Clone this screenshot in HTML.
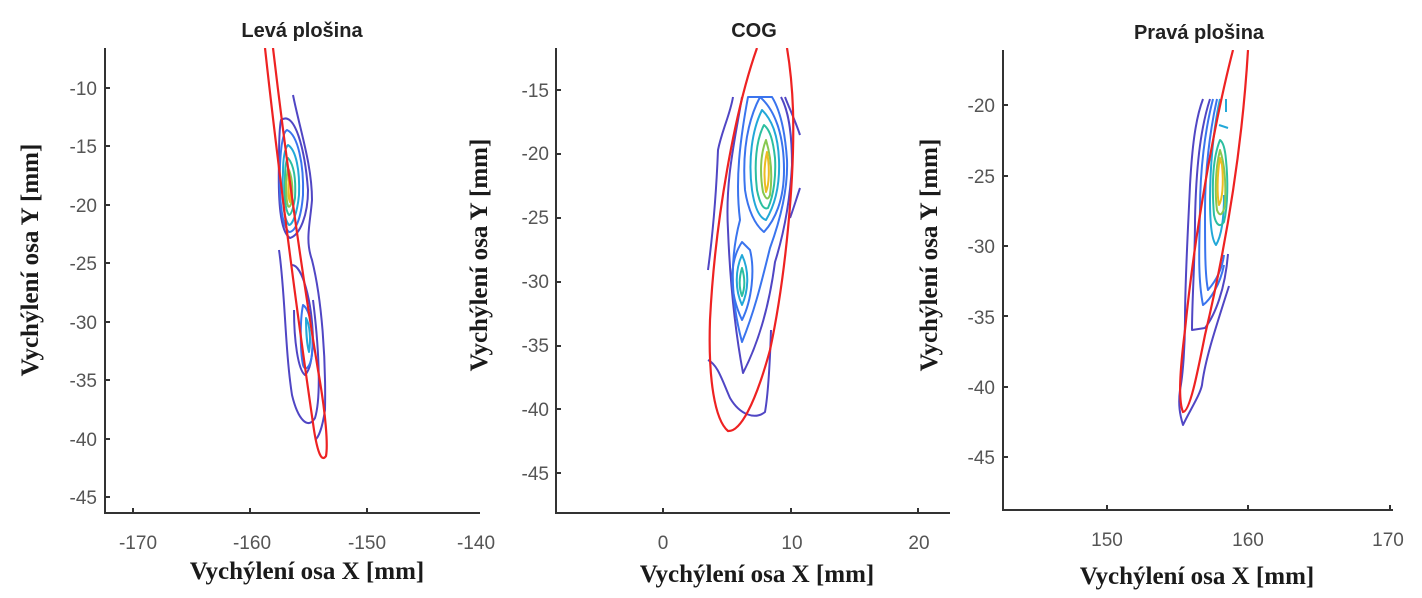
<!DOCTYPE html>
<html><head><meta charset="utf-8"><style>
html,body{margin:0;padding:0;background:#fff;}
svg{display:block;}
.t{font-family:"Liberation Sans",sans-serif;font-weight:bold;font-size:20px;fill:#222;text-anchor:middle;}
.k{font-family:"Liberation Sans",sans-serif;font-size:19px;fill:#555;}
.a{font-family:"Liberation Serif",serif;font-weight:bold;font-size:25px;fill:#1a1a1a;text-anchor:middle;}
.ax{stroke:#333;stroke-width:2;fill:none;}
.c{fill:none;stroke-width:2;stroke-linejoin:round;}
.p{stroke:#5046c4;} .b{stroke:#3a74ee;} .cy{stroke:#22a8d8;} .g{stroke:#2cbfa0;} .gy{stroke:#88c850;} .y{stroke:#ecbc22;}
.r{fill:none;stroke:#ee2222;stroke-width:2.2;}
</style></head><body>
<svg width="1422" height="598" viewBox="0 0 1422 598">
<defs>
<clipPath id="c1"><rect x="105" y="48" width="380" height="465"/></clipPath>
<clipPath id="c2"><rect x="556" y="48" width="400" height="465"/></clipPath>
<clipPath id="c3"><rect x="1003" y="50" width="400" height="460"/></clipPath>
</defs>

<!-- Panel 1 -->
<text class="t" x="302" y="37">Levá plošina</text>
<path class="ax" d="M105,48 V513 H480"/>
<g class="k" text-anchor="end">
<text x="97" y="95">-10</text><text x="97" y="153">-15</text><text x="97" y="212">-20</text><text x="97" y="270">-25</text><text x="97" y="329">-30</text><text x="97" y="387">-35</text><text x="97" y="446">-40</text><text x="97" y="504">-45</text>
</g>
<g class="ax"><path d="M105,88h5M105,146h5M105,205h5M105,263h5M105,322h5M105,380h5M105,439h5M105,497h5M133,513v-5M250,513v-5M367,513v-5"/></g>
<g class="k" text-anchor="middle"><text x="138" y="549">-170</text><text x="252" y="549">-160</text><text x="367" y="549">-150</text><text x="476" y="549">-140</text></g>
<text class="a" x="307" y="579">Vychýlení osa X [mm]</text>
<text class="a" transform="translate(38,260) rotate(-90)">Vychýlení osa Y [mm]</text>
<g clip-path="url(#c1)">
<path class="c p" d="M293,95 C300,130 312,165 312,200 C310,225 305,240 312,260 C322,300 326,360 325,410 C322,430 318,438 315,440"/>
<path class="c p" d="M281,120 C295,110 305,150 308,190 C308,215 300,235 290,238 C280,232 278,200 279,160 C279,135 280,125 281,120Z"/>
<path class="c p" d="M279,250 C285,290 285,350 292,395 C298,420 308,430 315,418 C322,395 318,340 313,300"/>
<path class="c p" d="M292,265 C302,265 312,300 313,340 C312,360 310,370 305,375 C298,370 294,340 294,310"/>
<path class="c b" d="M287,130 C298,135 304,165 303,195 C301,220 295,232 289,232 C281,225 279,195 280,165 C281,145 283,132 287,130Z"/>
<path class="c cy" d="M288,145 C296,150 300,170 299,195 C297,215 292,225 289,225 C283,218 282,195 283,172 C283,158 285,148 288,145Z"/>
<path class="c g" d="M288,158 C294,165 296,180 295,198 C293,210 291,215 289,215 C285,210 284,195 285,180 C285,168 286,160 288,158Z"/>
<path class="c gy" d="M288,168 C292,175 293,188 292,200 C291,206 289,208 288,206 C286,200 286,190 286,182Z"/>
<path class="c y" d="M289,175 C291,182 291,195 290,202 C288,198 288,188 289,175Z"/>
<path class="c b" d="M303,305 C310,310 314,330 312,355 C310,368 305,372 303,365 C300,350 300,320 303,305Z"/>
<path class="c cy" d="M306,318 C310,325 311,340 309,352 C307,345 306,330 306,318Z"/>
<path class="r" d="M265,48 C275,140 295,300 314,430 C318,455 322,462 326,456 C328,445 326,415 318,370 C300,260 285,150 273,48"/>
</g>

<!-- Panel 2 -->
<text class="t" x="754" y="37">COG</text>
<path class="ax" d="M556,48 V513 H950"/>
<g class="k" text-anchor="end">
<text x="549" y="97">-15</text><text x="549" y="160">-20</text><text x="549" y="224">-25</text><text x="549" y="288">-30</text><text x="549" y="352">-35</text><text x="549" y="416">-40</text><text x="549" y="480">-45</text>
</g>
<g class="ax"><path d="M556,90h5M556,154h5M556,218h5M556,282h5M556,346h5M556,409h5M556,473h5M663,513v-5M791,513v-5M918,513v-5"/></g>
<g class="k" text-anchor="middle"><text x="663" y="549">0</text><text x="792" y="549">10</text><text x="919" y="549">20</text></g>
<text class="a" x="757" y="582">Vychýlení osa X [mm]</text>
<text class="a" transform="translate(487,255) rotate(-90)">Vychýlení osa Y [mm]</text>
<g clip-path="url(#c2)">
<path class="c p" d="M733,97 C730,115 722,130 718,150 C716,200 712,240 708,270"/>
<path class="c p" d="M785,97 C790,110 795,120 800,135"/>
<path class="c p" d="M800,188 C796,200 793,210 790,218"/>
<path class="c p" d="M708,360 C718,365 722,380 730,398 C740,415 755,420 765,412 C768,395 770,360 771,330"/>
<path class="c p" d="M742,97 C735,140 725,180 728,230 C730,280 735,330 743,373 C760,340 770,300 775,262 C785,230 790,200 792,165 C792,130 788,110 781,97"/>
<path class="c b" d="M748,97 C740,140 735,180 740,220 C732,250 728,290 742,342 C755,310 762,280 770,248 C782,215 788,185 787,160 C785,130 780,110 772,97Z"/>
<path class="c b" d="M760,97 C748,120 742,150 745,190 C748,210 755,225 764,232 C775,220 784,200 784,170 C784,135 775,110 760,97Z"/>
<path class="c b" d="M742,242 C730,260 728,290 742,320 C752,300 755,270 750,250Z"/>
<path class="c cy" d="M762,110 C752,130 748,160 752,190 C755,210 760,218 766,220 C775,205 780,185 779,160 C778,135 772,120 762,110Z"/>
<path class="c cy" d="M742,255 C735,270 735,290 742,305 C748,292 750,272 742,255Z"/>
<path class="c g" d="M764,125 C756,140 754,165 757,190 C760,205 764,210 768,208 C774,195 776,175 775,158 C773,140 770,130 764,125Z"/>
<path class="c g" d="M742,268 C739,278 739,288 742,296 C745,288 745,278 742,268Z"/>
<path class="c gy" d="M766,140 C760,155 760,175 763,192 C766,200 768,200 770,195 C772,180 772,160 766,140Z"/>
<path class="c y" d="M767,152 C764,165 764,180 766,192 C769,185 770,168 767,152Z"/>
<path class="r" d="M757,48 C735,110 715,220 710,320 C708,380 715,420 728,431 C740,432 755,405 770,350 C785,280 795,180 793,110 C792,80 789,60 787,48"/>
</g>

<!-- Panel 3 -->
<text class="t" x="1199" y="39">Pravá plošina</text>
<path class="ax" d="M1003,50 V510 H1393"/>
<g class="k" text-anchor="end">
<text x="995" y="112">-20</text><text x="995" y="183">-25</text><text x="995" y="253">-30</text><text x="995" y="324">-35</text><text x="995" y="394">-40</text><text x="995" y="464">-45</text>
</g>
<g class="ax"><path d="M1003,105h5M1003,176h5M1003,246h5M1003,316h5M1003,387h5M1003,457h5M1107,510v-5M1248,510v-5M1390,510v-5"/></g>
<g class="k" text-anchor="middle"><text x="1107" y="546">150</text><text x="1248" y="546">160</text><text x="1388" y="546">170</text></g>
<text class="a" x="1197" y="584">Vychýlení osa X [mm]</text>
<text class="a" transform="translate(937,255) rotate(-90)">Vychýlení osa Y [mm]</text>
<g clip-path="url(#c3)">
<path class="c p" d="M1203,99 C1195,120 1192,150 1190,185 C1188,230 1185,280 1185,320 C1185,345 1183,375 1180,390 C1178,405 1180,415 1183,425 C1190,410 1200,395 1202,385 C1205,360 1215,330 1229,286"/>
<path class="c p" d="M1210,99 C1200,130 1196,170 1195,220 C1195,260 1192,300 1192,330 L1205,328 C1215,315 1225,290 1228,254"/>
<path class="c b" d="M1213,99 C1205,130 1200,170 1200,210 C1199,250 1198,280 1203,305 C1210,300 1220,285 1224,265"/>
<path class="c b" d="M1217,99 C1210,130 1205,170 1205,210 C1205,250 1205,275 1208,290 C1215,282 1222,270 1224,255"/>
<path class="c cy" d="M1220,99 C1213,130 1210,170 1210,200 C1210,225 1212,240 1216,245 C1222,235 1224,215 1224,195"/>
<path class="c cy" d="M1226,99 L1226,112 M1219,125 L1228,128"/>
<path class="c g" d="M1220,140 C1212,160 1212,190 1214,215 C1216,225 1220,228 1224,222 C1228,205 1228,180 1226,160 C1225,148 1223,142 1220,140Z"/>
<path class="c gy" d="M1220,150 C1215,170 1215,195 1217,210 C1220,218 1223,214 1225,205 C1226,185 1225,165 1220,150Z"/>
<path class="c y" d="M1220,158 C1217,175 1217,195 1219,205 C1222,200 1224,185 1222,165Z"/>
<path class="r" d="M1233,50 C1215,120 1195,230 1185,330 C1180,370 1178,400 1183,412 C1190,412 1198,370 1205,335 C1225,250 1242,150 1248,50"/>
</g>
</svg>
</body></html>
